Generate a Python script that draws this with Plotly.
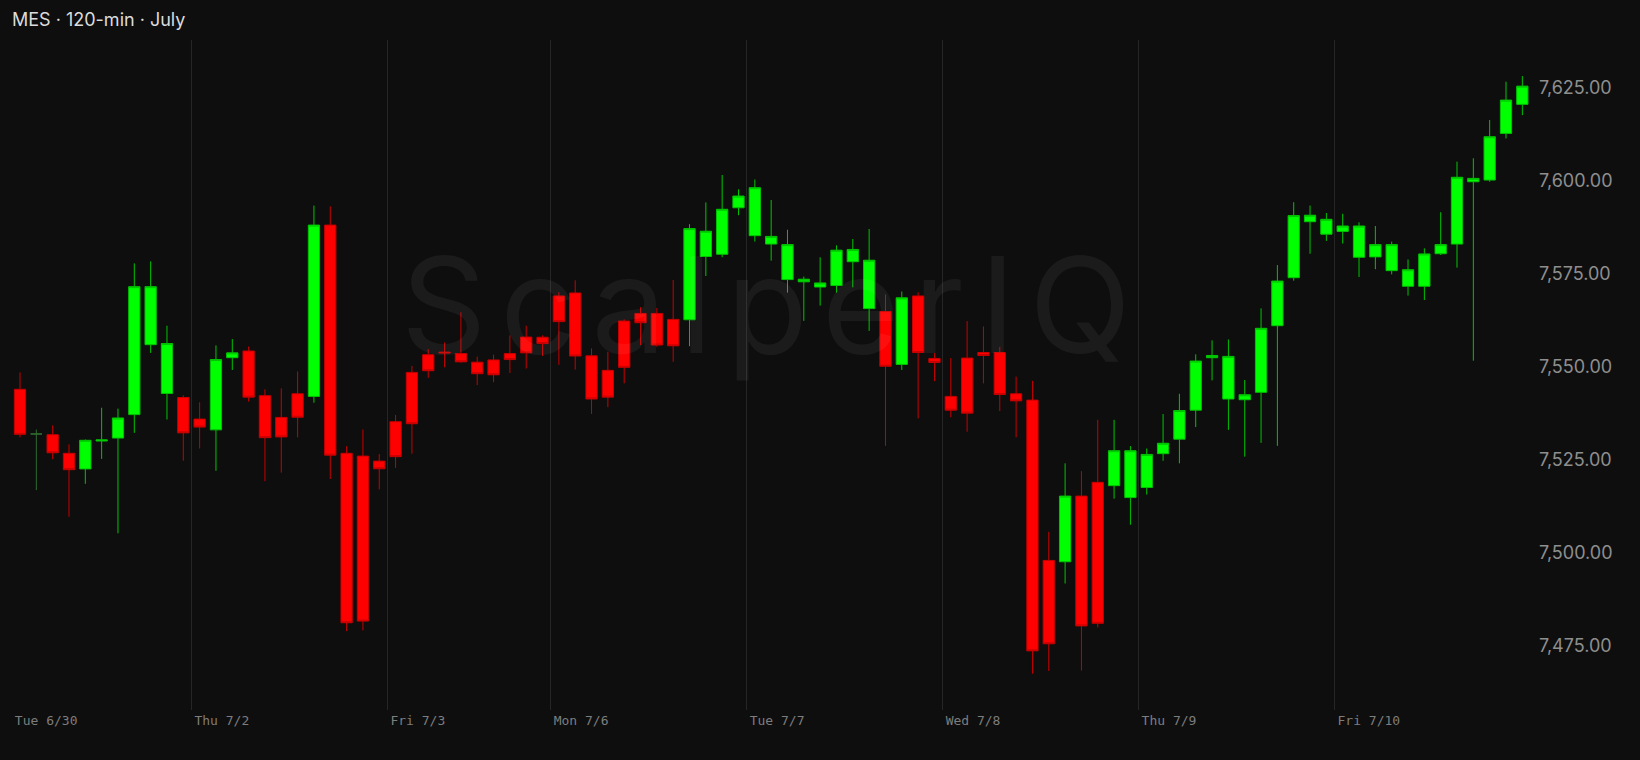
import plotly.graph_objects as go

# ---- data (MES, 120-min bars) ----
opens = [7543.8, 7531.8, 7531.6, 7526.6, 7522.4, 7529.9, 7530.7, 7537.0, 7555.8, 7542.7,
         7541.6, 7535.8, 7532.9, 7552.3, 7554.1, 7542.1, 7536.25, 7542.6, 7541.9, 7587.95,
         7526.6, 7525.85, 7524.5, 7535.1, 7548.35, 7553.1, 7553.8, 7553.4, 7551.1, 7551.7,
         7553.4, 7557.85, 7557.8, 7568.9, 7569.7, 7552.8, 7548.9, 7562.15, 7564.2, 7564.2,
         7562.6, 7562.5, 7579.5, 7580.1, 7592.6, 7585.1, 7582.85, 7573.3, 7572.7, 7571.3,
         7571.7, 7578.1, 7565.5, 7564.7, 7550.5, 7568.9, 7552.1, 7541.9, 7552.2, 7553.7,
         7553.7, 7542.6, 7540.9, 7497.8, 7497.45, 7515.1, 7518.8, 7517.9, 7514.7, 7517.4,
         7526.5, 7530.4, 7538.2, 7552.3, 7541.2, 7541.0, 7543.0, 7560.9, 7573.8, 7588.85,
         7585.5, 7586.25, 7579.3, 7579.4, 7575.7, 7571.5, 7571.5, 7580.25, 7582.85, 7599.6,
         7600.05, 7612.6, 7620.4]
highs = [7548.35, 7533.0, 7534.1, 7529.0, 7530.3, 7538.85, 7538.6, 7577.65, 7578.2, 7560.9,
         7542.2, 7540.3, 7555.6, 7557.3, 7555.3, 7543.8, 7544.05, 7548.6, 7593.2, 7593.0,
         7528.5, 7533.0, 7526.4, 7536.9, 7550.1, 7554.6, 7556.4, 7564.5, 7552.6, 7553.1,
         7558.3, 7560.9, 7558.3, 7569.9, 7573.1, 7554.8, 7553.9, 7562.6, 7565.9, 7565.65,
         7573.2, 7588.2, 7594.05, 7601.4, 7597.55, 7600.2, 7594.7, 7586.7, 7574.1, 7579.3,
         7582.5, 7584.2, 7586.9, 7569.3, 7570.1, 7569.9, 7553.55, 7552.2, 7562.15, 7560.7,
         7555.2, 7547.2, 7546.1, 7505.5, 7523.9, 7521.8, 7535.6, 7535.6, 7528.55, 7527.9,
         7537.15, 7542.6, 7553.2, 7556.95, 7557.2, 7546.3, 7565.55, 7577.2, 7594.1, 7593.2,
         7591.2, 7591.0, 7588.7, 7587.7, 7583.5, 7578.7, 7581.7, 7591.4, 7605.0, 7605.9,
         7616.2, 7626.5, 7628.0]
lows = [7530.9, 7516.7, 7525.0, 7509.55, 7518.4, 7525.1, 7505.1, 7532.1, 7553.6, 7535.7,
        7524.6, 7527.9, 7521.9, 7549.0, 7540.5, 7519.1, 7521.4, 7530.9, 7540.2, 7519.7,
        7478.8, 7479.0, 7516.9, 7522.7, 7526.5, 7546.9, 7549.7, 7550.95, 7544.95, 7545.7,
        7548.2, 7549.4, 7552.75, 7550.4, 7549.1, 7537.2, 7539.0, 7545.4, 7555.7, 7555.25,
        7551.2, 7555.4, 7574.25, 7579.3, 7590.6, 7583.5, 7578.4, 7569.8, 7562.2, 7566.3,
        7569.8, 7571.2, 7559.5, 7528.6, 7549.0, 7536.0, 7546.0, 7536.3, 7532.4, 7545.4,
        7537.95, 7530.9, 7467.35, 7468.1, 7491.6, 7468.2, 7479.8, 7514.4, 7507.4, 7515.5,
        7524.6, 7523.9, 7533.65, 7546.2, 7532.9, 7525.7, 7529.4, 7528.6, 7573.0, 7580.25,
        7583.7, 7583.0, 7574.0, 7576.1, 7574.7, 7569.0, 7567.8, 7579.9, 7576.5, 7551.5,
        7599.6, 7611.25, 7617.5]
closes = [7531.7, 7531.8, 7526.75, 7522.2, 7530.1, 7530.2, 7536.1, 7571.4, 7571.4, 7556.1,
          7532.1, 7533.65, 7551.8, 7553.6, 7541.7, 7530.8, 7531.0, 7536.3, 7587.95, 7526.1,
          7481.05, 7481.5, 7522.45, 7525.7, 7534.55, 7548.8, 7553.6, 7551.2, 7548.0, 7547.7,
          7551.8, 7553.6, 7556.1, 7562.0, 7552.75, 7541.2, 7541.7, 7549.7, 7561.7, 7555.7,
          7555.5, 7587.0, 7586.3, 7592.2, 7595.75, 7598.0, 7584.9, 7582.7, 7573.4, 7572.4,
          7581.2, 7581.4, 7578.5, 7550.0, 7568.4, 7553.7, 7551.0, 7538.2, 7537.4, 7552.9,
          7542.4, 7540.7, 7473.5, 7475.4, 7515.1, 7480.2, 7480.9, 7527.3, 7527.3, 7526.3,
          7529.3, 7538.1, 7551.4, 7552.9, 7552.65, 7542.35, 7560.2, 7572.9, 7590.5, 7590.6,
          7589.5, 7587.7, 7587.7, 7582.7, 7582.7, 7575.95, 7580.2, 7582.7, 7600.8, 7600.5,
          7611.7, 7621.55, 7625.3]

# bars drawn in the neutral (unchanged) colour
neutral_bars = [1]

# first bar index of each session and its label
day_start_bar = [0, 11, 23, 33, 45, 57, 69, 81]
day_labels = ["Tue 6/30", "Thu 7/2", "Fri 7/3", "Mon 7/6", "Tue 7/7", "Wed 7/8", "Thu 7/9", "Fri 7/10"]

price_ticks = [7475, 7500, 7525, 7550, 7575, 7600, 7625]

title_text = "MES · 120-min · July"
watermark = "ScalperIQ"

# ---- figure ----
bars = list(range(len(opens)))
main_idx = [i for i in bars if i not in neutral_bars]

BG = "#0e0e0e"
UP_FILL, UP_LINE = "#00ff00", "#00c400"
DN_FILL, DN_LINE = "#ff0000", "#c80000"
NEUTRAL = "#2f6a2f"

fig = go.Figure()
fig.add_trace(go.Candlestick(
    x=[bars[i] for i in main_idx],
    open=[opens[i] for i in main_idx],
    high=[highs[i] for i in main_idx],
    low=[lows[i] for i in main_idx],
    close=[closes[i] for i in main_idx],
    increasing=dict(fillcolor=UP_FILL, line=dict(color=UP_LINE, width=1)),
    decreasing=dict(fillcolor=DN_FILL, line=dict(color=DN_LINE, width=1)),
    whiskerwidth=0,
    hoverinfo="skip",
))
fig.add_trace(go.Candlestick(
    x=[bars[i] for i in neutral_bars],
    open=[opens[i] for i in neutral_bars],
    high=[highs[i] for i in neutral_bars],
    low=[lows[i] for i in neutral_bars],
    close=[closes[i] for i in neutral_bars],
    increasing=dict(fillcolor=NEUTRAL, line=dict(color=NEUTRAL, width=1)),
    decreasing=dict(fillcolor=NEUTRAL, line=dict(color=NEUTRAL, width=1)),
    whiskerwidth=0,
    hoverinfo="skip",
))

day_bounds = [b - 0.5 for b in day_start_bar]

fig.update_layout(
    width=1640, height=760,
    margin=dict(l=0, r=110, t=40, b=50),
    paper_bgcolor=BG, plot_bgcolor=BG,
    showlegend=False,
    boxgap=0.31, boxgroupgap=0,
    title=dict(text=title_text, x=12 / 1640, xanchor="left", xref="container",
               y=1 - 20 / 760, yanchor="middle", yref="container",
               font=dict(family="Inter", size=18, color="#dcdcdc")),
    xaxis=dict(
        range=[-1.225, 92.47],
        rangeslider=dict(visible=False),
        tickmode="array", tickvals=day_bounds, ticktext=day_labels,
        ticklabelposition="outside right", ticklabelshift=3, ticklabelstandoff=1,
        ticks="", showgrid=False, zeroline=False, showline=False,
        tickfont=dict(family="DejaVu Sans Mono", size=13, color="#7d7d7d"),
        minor=dict(tickmode="array", tickvals=day_bounds[1:], showgrid=True,
                   gridcolor="#262626", gridwidth=1, ticks=""),
    ),
    yaxis=dict(
        side="right", range=[7457.6, 7637.7],
        tickmode="array", tickvals=price_ticks, tickformat=",.2f",
        showgrid=False, zeroline=False, showline=False, ticks="",
        ticklabelstandoff=8,
        tickfont=dict(family="Inter", size=18, color="#8e8e8e"),
    ),
    annotations=[dict(
        text='<span style="letter-spacing:14px">' + watermark + '</span>',
        xref="paper", yref="paper", x=0.505, y=0.605,
        xanchor="center", yanchor="middle", showarrow=False,
        font=dict(family="Inter", size=133, color="rgba(255,255,255,0.055)"),
    )],
)

fig.write_html("out.html")
